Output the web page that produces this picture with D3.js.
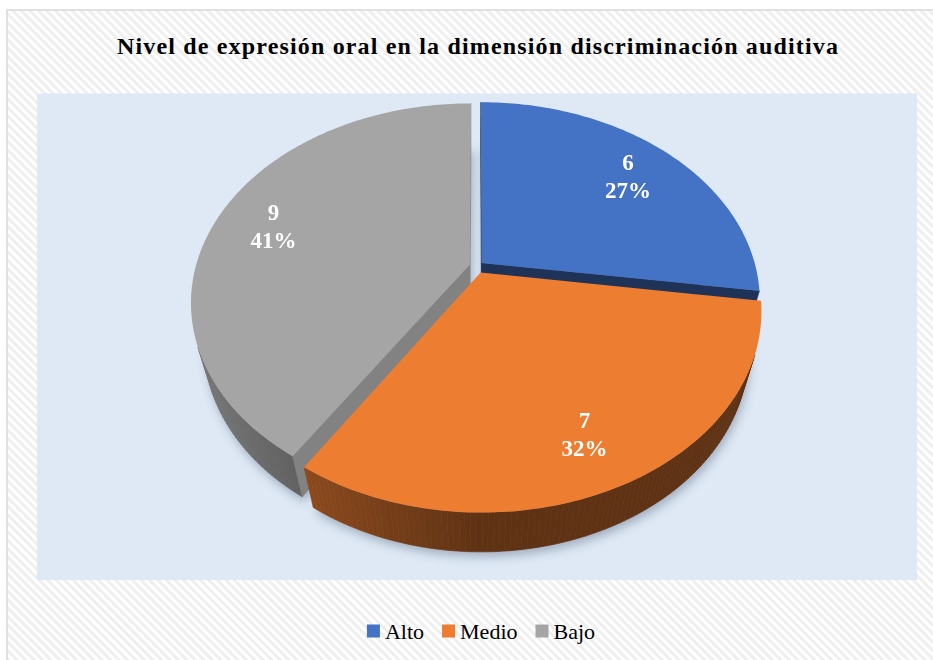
<!DOCTYPE html>
<html>
<head>
<meta charset="utf-8">
<script src="https://cdn.jsdelivr.net/npm/d3@7"></script>
<style>
  body { margin: 0; background: #fff; }
  svg { display: block; }
  .serif { font-family: 'Liberation Serif', 'Times New Roman', Tinos, 'DejaVu Serif', serif; }
</style>
</head>
<body>
<div id="chart"></div>
<script>
var title = 'Nivel de expresión oral en la dimensión discriminación auditiva';
var categories = ['Alto', 'Medio', 'Bajo'];
var values = [6, 7, 9];
var colors = ['#4472c4', '#ed7d31', '#a5a5a5'];
var explode = [0.025, 0.036, 0.026];

var width = 933, height = 660;
// 3d view of the pie (unit radius)
var cx = 476.5, cy = 309, F = 989, D = 3.78, thick = 0.23,
  elev = 47 * Math.PI / 180,
  cosE = Math.cos(elev), sinE = Math.sin(elev),
  labelR = 0.78;

function proj(x, zf, yu) {
  var v = yu * cosE - zf * sinE;
  var depth = D - (zf * cosE + yu * sinE);
  return [cx + F * x / depth, cy - F * v / depth];
}

function area(p) {
  var s = 0;
  for (var i = 0; i < p.length; i++) {
    var q = p[(i + 1) % p.length];
    s += p[i][0] * q[1] - q[0] * p[i][1];
  }
  return s;
}

function shade(c, k) {
  var r = d3.rgb(c);
  return d3.rgb(r.r * k, r.g * k, r.b * k).formatHex();
}

var line = d3.line().curve(d3.curveLinearClosed);

var svg = d3.select('#chart').append('svg')
  .attr('width', width).attr('height', height);
var defs = svg.append('defs');

var pat = defs.append('pattern')
  .attr('id', 'hatch')
  .attr('width', 6).attr('height', 6)
  .attr('patternUnits', 'userSpaceOnUse')
  .attr('patternTransform', 'rotate(-45)');
pat.append('rect').attr('width', 6).attr('height', 6).attr('fill', '#fff');
pat.append('rect').attr('width', 3).attr('height', 6).attr('fill', '#efefef');

defs.append('filter').attr('id', 'blur')
  .attr('x', '-20%').attr('y', '-20%').attr('width', '140%').attr('height', '140%')
  .append('feGaussianBlur').attr('stdDeviation', 5);

svg.append('rect')
  .attr('x', 7).attr('y', 10)
  .attr('width', width).attr('height', height)
  .attr('fill', 'url(#hatch)')
  .attr('stroke', '#d9d9d9').attr('stroke-width', 1.5);

svg.append('rect')
  .attr('x', 37).attr('y', 93.5)
  .attr('width', 880).attr('height', 486.5)
  .attr('fill', '#dee9f5');

svg.append('text')
  .attr('class', 'serif')
  .attr('x', 477.5).attr('y', 54)
  .attr('text-anchor', 'middle')
  .attr('textLength', 721)
  .attr('lengthAdjust', 'spacing')
  .style('font-weight', 'bold')
  .style('font-size', '24px')
  .text(title);

var total = d3.sum(values);
var pie = d3.pie().sort(null).value(function (d) { return d; });
var slices = pie(values).map(function (d, i) {
  var mid = (d.startAngle + d.endAngle) / 2;
  return {
    i: i, a: d.startAngle, b: d.endAngle, mid: mid, value: d.value,
    ox: explode[i] * Math.sin(mid), oz: -explode[i] * Math.cos(mid)
  };
});

function pt(s, ang, r, yu) {
  return proj(s.ox + r * Math.sin(ang), s.oz - r * Math.cos(ang), yu);
}

function topPoly(s, yu) {
  var p = [pt(s, 0, 0, yu)];
  var n = Math.ceil((s.b - s.a) / (Math.PI / 180));
  for (var k = 0; k <= n; k++) p.push(pt(s, s.a + (s.b - s.a) * k / n, 1, yu));
  return p;
}

// shadow
svg.append('g')
  .attr('transform', 'translate(2,5)')
  .attr('filter', 'url(#blur)')
  .selectAll('path')
  .data(slices)
  .enter().append('path')
  .attr('d', function (s) { return line(topPoly(s, 0)); })
  .attr('fill', '#4a5a70')
  .attr('opacity', 0.4);

var topSign = Math.sign(area(topPoly(slices[0], thick)));

var order = slices.slice().sort(function (p, q) { return (-Math.cos(p.mid)) - (-Math.cos(q.mid)); });

order.forEach(function (s) {
  var g = svg.append('g').attr('class', 'slice');
  var faces = [];
  var n = Math.ceil((s.b - s.a) / (Math.PI / 180));
  for (var k = 0; k < n; k++) {
    var a1 = s.a + (s.b - s.a) * k / n, a2 = s.a + (s.b - s.a) * (k + 1) / n;
    var quad = [pt(s, a2, 1, thick), pt(s, a1, 1, thick), pt(s, a1, 1, 0), pt(s, a2, 1, 0)];
    var m = (a1 + a2) / 2;
    faces.push({ p: quad, c: shade(colors[s.i], 0.4 + 0.35 * Math.max(0, -Math.sin(m))) });
  }
  var endF = [pt(s, s.b, 0, thick), pt(s, s.b, 1, thick), pt(s, s.b, 1, 0), pt(s, s.b, 0, 0)];
  faces.push({ p: endF, c: shade(colors[s.i], 0.45 + 0.4 * Math.max(0, Math.sin(s.b + Math.PI / 2))) });
  var startF = [pt(s, s.a, 0, thick), pt(s, s.a, 0, 0), pt(s, s.a, 1, 0), pt(s, s.a, 1, thick)];
  faces.push({ p: startF, c: shade(colors[s.i], 0.45 + 0.4 * Math.max(0, Math.sin(s.a - Math.PI / 2))) });

  g.selectAll('path.side')
    .data(faces.filter(function (f) { return Math.sign(area(f.p)) === topSign; }))
    .enter().append('path')
    .attr('class', 'side')
    .attr('d', function (f) { return line(f.p); })
    .attr('fill', function (f) { return f.c; })
    .attr('stroke', function (f) { return f.c; })
    .attr('stroke-width', 0.6);

  g.append('path')
    .attr('d', line(topPoly(s, thick)))
    .attr('fill', colors[s.i]);
});

// data labels
var fmt = d3.format('.0%');
var labels = svg.append('g').selectAll('text')
  .data(slices)
  .enter().append('text')
  .attr('class', 'serif')
  .attr('text-anchor', 'middle')
  .attr('fill', '#fff')
  .style('font-weight', 'bold')
  .style('font-size', '23px')
  .attr('transform', function (s) {
    var p = pt(s, s.mid, labelR, thick);
    return 'translate(' + p[0] + ',' + p[1] + ')';
  });
labels.append('tspan').attr('x', 0).attr('y', -4).text(function (s) { return s.value; });
labels.append('tspan').attr('x', 0).attr('y', 24).text(function (s) { return fmt(s.value / total); });

// legend
var legend = svg.append('g').attr('transform', 'translate(0,631)');
var items = legend.selectAll('g')
  .data(categories)
  .enter().append('g');
items.append('rect')
  .attr('y', -6.5).attr('width', 13).attr('height', 13)
  .attr('fill', function (d, i) { return colors[i]; });
items.append('text')
  .attr('class', 'serif')
  .attr('x', 18).attr('y', 7.5)
  .style('font-size', '22px')
  .attr('fill', '#000')
  .text(function (d) { return d; });
var xPos = 0, offsets = [];
items.each(function () {
  offsets.push(xPos);
  xPos += 18 + d3.select(this).select('text').node().getComputedTextLength() + 18;
});
var legendW = xPos - 18, start = 481 - legendW / 2;
items.attr('transform', function (d, i) { return 'translate(' + (start + offsets[i]) + ',0)'; });
</script>
</body>
</html>
